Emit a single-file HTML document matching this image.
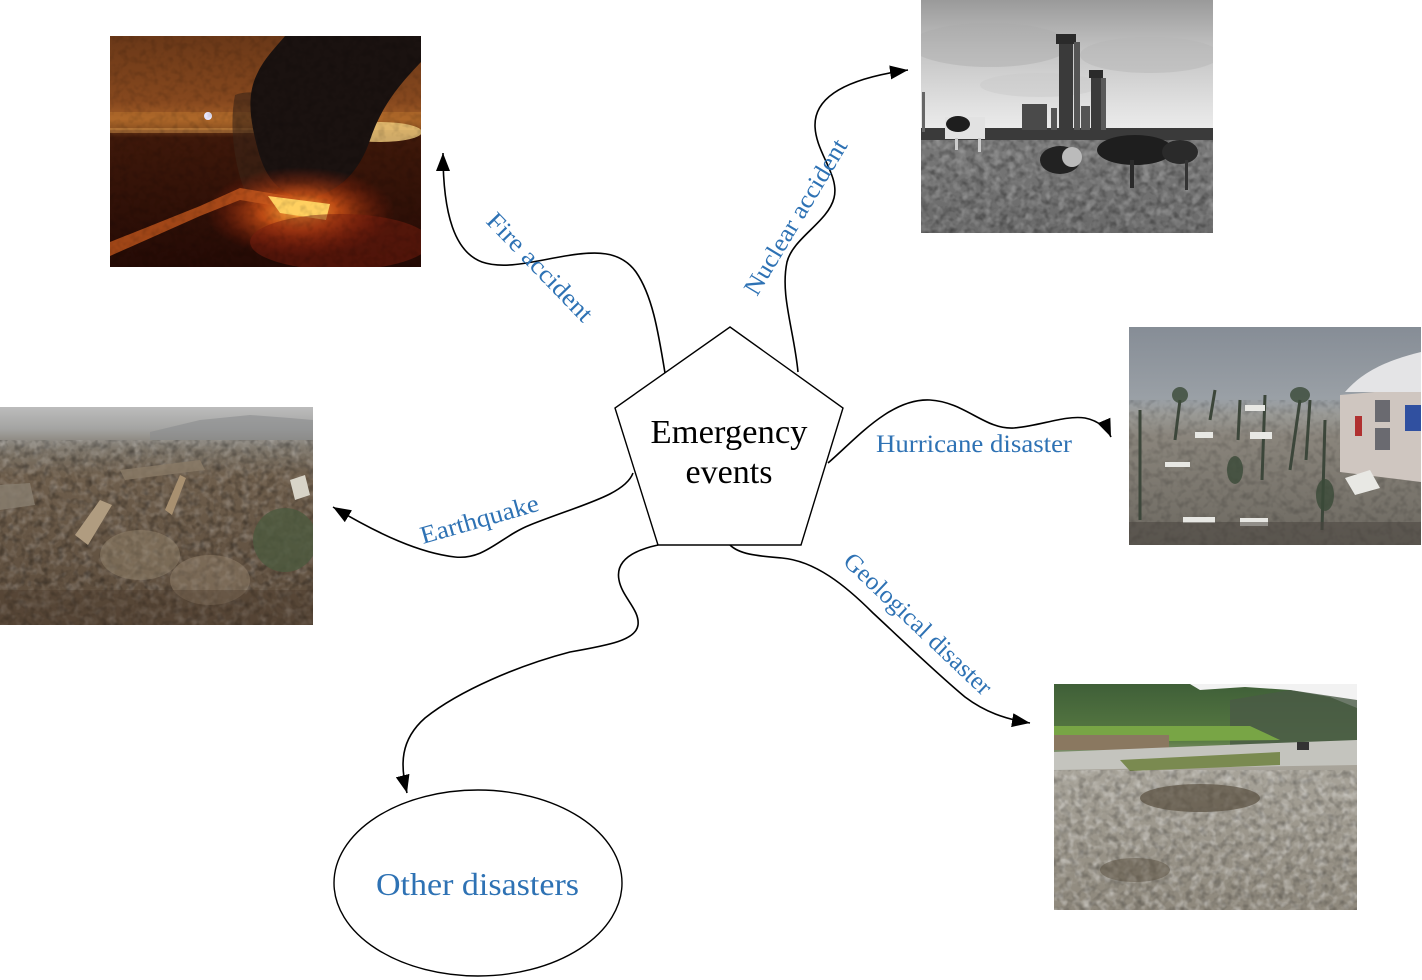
<!DOCTYPE html>
<html>
<head>
<meta charset="utf-8">
<style>
html,body{margin:0;padding:0;background:#fff;}
svg{display:block;}
.lbl{font-family:"Liberation Serif",serif;font-size:25px;fill:#2e72b4;}
</style>
</head>
<body>
<svg width="1422" height="980" viewBox="0 0 1422 980" xmlns="http://www.w3.org/2000/svg">
<defs>
  <marker id="ah" markerUnits="userSpaceOnUse" markerWidth="20" markerHeight="14" refX="18" refY="7" orient="auto">
    <path d="M0,0 L18,7 L0,14 z" fill="#000"/>
  </marker>
  <filter id="nzd" x="0" y="0" width="100%" height="100%">
    <feTurbulence type="fractalNoise" baseFrequency="0.14" numOctaves="2" seed="5"/>
    <feColorMatrix type="matrix" values="0 0 0 0 0  0 0 0 0 0  0 0 0 0 0  1.6 0 0 0 -0.7"/>
  </filter>
  <filter id="nzl" x="0" y="0" width="100%" height="100%">
    <feTurbulence type="fractalNoise" baseFrequency="0.12" numOctaves="2" seed="11"/>
    <feColorMatrix type="matrix" values="0 0 0 0 1  0 0 0 0 1  0 0 0 0 1  0 1.6 0 0 -0.7"/>
  </filter>
  <linearGradient id="gfire" x1="0" y1="0" x2="0" y2="1">
    <stop offset="0" stop-color="#6a3818"/>
    <stop offset="0.28" stop-color="#86481e"/>
    <stop offset="0.36" stop-color="#a25c26"/>
    <stop offset="0.44" stop-color="#3e180a"/>
    <stop offset="1" stop-color="#240a05"/>
  </linearGradient>
  <radialGradient id="rglow">
    <stop offset="0" stop-color="#ffb040" stop-opacity="1"/>
    <stop offset="0.4" stop-color="#e05a18" stop-opacity="0.8"/>
    <stop offset="1" stop-color="#901808" stop-opacity="0"/>
  </radialGradient>
  <linearGradient id="gnuc" x1="0" y1="0" x2="0" y2="1">
    <stop offset="0" stop-color="#9a9a9a"/>
    <stop offset="0.22" stop-color="#c4c4c4"/>
    <stop offset="0.45" stop-color="#e0e0e0"/>
    <stop offset="0.56" stop-color="#ececec"/>
    <stop offset="0.57" stop-color="#7a7a7a"/>
    <stop offset="1" stop-color="#6a6a6a"/>
  </linearGradient>
  <linearGradient id="ghur" x1="0" y1="0" x2="0" y2="1">
    <stop offset="0" stop-color="#868d96"/>
    <stop offset="0.33" stop-color="#9aa0a6"/>
    <stop offset="0.4" stop-color="#9a9a96"/>
    <stop offset="0.5" stop-color="#8a857c"/>
    <stop offset="1" stop-color="#6c6860"/>
  </linearGradient>
  <linearGradient id="geq" x1="0" y1="0" x2="0" y2="1">
    <stop offset="0" stop-color="#bcbcbc"/>
    <stop offset="0.1" stop-color="#a4a4a2"/>
    <stop offset="0.2" stop-color="#7c7468"/>
    <stop offset="0.32" stop-color="#6e5e4c"/>
    <stop offset="1" stop-color="#5a4a3a"/>
  </linearGradient>
  <linearGradient id="ggeo" x1="0" y1="0" x2="0" y2="1">
    <stop offset="0" stop-color="#3f5f38"/>
    <stop offset="0.25" stop-color="#587a42"/>
    <stop offset="0.36" stop-color="#a8a49a"/>
    <stop offset="1" stop-color="#8e887c"/>
  </linearGradient>
  <clipPath id="cf"><rect x="110" y="36" width="311" height="231"/></clipPath>
  <clipPath id="cn"><rect x="921" y="0" width="292" height="233"/></clipPath>
  <clipPath id="ch"><rect x="1129" y="327" width="292" height="218"/></clipPath>
  <clipPath id="ce"><rect x="0" y="407" width="313" height="218"/></clipPath>
  <clipPath id="cg"><rect x="1054" y="684" width="303" height="226"/></clipPath>
</defs>

<rect width="1422" height="980" fill="#fff"/>

<!-- ===== Fire image ===== -->
<g clip-path="url(#cf)">
  <rect x="110" y="36" width="311" height="231" fill="url(#gfire)"/>
  <rect x="110" y="112" width="311" height="18" fill="#c07a30" opacity="0.4"/>
  <rect x="110" y="128" width="150" height="5" fill="#d89a50" opacity="0.45"/>
  <circle cx="208" cy="116" r="4" fill="#e8e8ff"/>
  <ellipse cx="380" cy="132" rx="42" ry="10" fill="#f4d080" opacity="0.8"/>
  <path d="M235,95 C262,85 300,105 310,140 C300,170 272,198 252,205 C236,180 228,130 235,95 Z" fill="#3a2418" opacity="0.6"/>
  <path d="M285,36 L421,36 L421,62 C402,82 382,104 370,140 C360,170 340,192 310,198 C282,198 266,180 258,150 C250,120 246,95 258,72 C266,56 278,45 285,36 Z" fill="#1a1210"/>
  <ellipse cx="300" cy="212" rx="95" ry="45" fill="url(#rglow)"/>
  <path d="M110,242 L200,206 L240,188 L300,198 L300,210 L240,200 L200,216 L110,256 Z" fill="#c85a1e" opacity="0.75"/>
  <path d="M268,196 L330,204 L326,220 L280,213 Z" fill="#ffd060"/>
  <ellipse cx="340" cy="242" rx="90" ry="28" fill="#7a1e0e" opacity="0.5"/>
  <rect x="110" y="36" width="311" height="231" filter="url(#nzd)" opacity="0.2"/>
</g>

<!-- ===== Nuclear image ===== -->
<g clip-path="url(#cn)">
  <rect x="921" y="0" width="292" height="233" fill="url(#gnuc)"/>
  <ellipse cx="990" cy="45" rx="80" ry="22" fill="#ababab" opacity="0.45"/>
  <ellipse cx="1150" cy="55" rx="70" ry="18" fill="#b5b5b5" opacity="0.5"/>
  <ellipse cx="1040" cy="85" rx="60" ry="12" fill="#cacaca" opacity="0.5"/>
  <rect x="921" y="128" width="292" height="12" fill="#3a3a3a"/>
  <rect x="1022" y="104" width="25" height="26" fill="#4a4a4a"/>
  <rect x="1051" y="108" width="6" height="22" fill="#555"/>
  <rect x="1059" y="40" width="14" height="90" fill="#3a3a3a"/>
  <rect x="1056" y="34" width="20" height="10" fill="#2a2a2a"/>
  <rect x="1074" y="42" width="6" height="88" fill="#555"/>
  <rect x="1081" y="106" width="9" height="24" fill="#555"/>
  <rect x="1091" y="75" width="10" height="55" fill="#3a3a3a"/>
  <rect x="1089" y="70" width="14" height="8" fill="#2a2a2a"/>
  <rect x="1101" y="78" width="5" height="52" fill="#5a5a5a"/>
  <rect x="922" y="92" width="3" height="40" fill="#666"/>
  <rect x="921" y="140" width="292" height="93" filter="url(#nzd)" opacity="0.45"/>
  <rect x="921" y="140" width="292" height="93" filter="url(#nzl)" opacity="0.35"/>
  <rect x="945" y="117" width="40" height="22" fill="#e2e2e2"/>
  <ellipse cx="958" cy="124" rx="12" ry="8" fill="#1e1e1e"/>
  <rect x="978" y="138" width="3" height="14" fill="#ccc"/>
  <rect x="955" y="138" width="3" height="12" fill="#ccc"/>
  <ellipse cx="1135" cy="150" rx="38" ry="15" fill="#1e1e1e"/>
  <ellipse cx="1180" cy="152" rx="18" ry="12" fill="#2a2a2a"/>
  <rect x="1130" y="160" width="4" height="28" fill="#2a2a2a"/>
  <rect x="1185" y="160" width="3" height="30" fill="#333"/>
  <ellipse cx="1060" cy="160" rx="20" ry="14" fill="#222"/>
  <ellipse cx="1072" cy="157" rx="10" ry="10" fill="#bbb"/>
</g>

<!-- ===== Hurricane image ===== -->
<g clip-path="url(#ch)">
  <rect x="1129" y="327" width="292" height="218" fill="url(#ghur)"/>
  <rect x="1129" y="400" width="292" height="145" filter="url(#nzd)" opacity="0.25"/>
  <path d="M1340,395 L1421,388 L1421,482 L1340,472 Z" fill="#cfc6c0"/>
  <path d="M1345,392 C1360,375 1380,362 1421,352 L1421,392 Z" fill="#e4e4e6"/>
  <rect x="1375" y="400" width="15" height="22" fill="#6a6a70"/>
  <rect x="1375" y="428" width="15" height="22" fill="#6a6a70"/>
  <rect x="1355" y="416" width="7" height="20" fill="#b03030"/>
  <rect x="1405" y="405" width="16" height="26" fill="#3050a0"/>
  <g stroke="#3c463a" stroke-width="3" fill="none">
    <path d="M1180,400 L1175,440"/><path d="M1240,400 L1238,440"/><path d="M1265,395 L1262,480"/>
    <path d="M1310,400 L1306,460"/><path d="M1325,420 L1322,530"/><path d="M1215,390 L1210,420"/>
    <path d="M1140,410 L1140,520"/><path d="M1300,400 L1290,470"/>
  </g>
  <g fill="#3a4a38" opacity="0.8">
    <ellipse cx="1235" cy="470" rx="8" ry="14"/><ellipse cx="1325" cy="495" rx="9" ry="16"/>
    <ellipse cx="1300" cy="395" rx="10" ry="8"/><ellipse cx="1180" cy="395" rx="8" ry="8"/>
  </g>
  <g fill="#e8e8e4">
    <rect x="1165" y="462" width="25" height="5"/><rect x="1183" y="517" width="32" height="6"/>
    <rect x="1240" y="518" width="28" height="8"/><rect x="1250" y="432" width="22" height="7"/>
    <rect x="1195" y="432" width="18" height="6"/><rect x="1245" y="405" width="20" height="6"/>
    <path d="M1345,478 L1370,470 L1380,488 L1355,495 Z"/>
  </g>
  <rect x="1129" y="522" width="292" height="23" fill="#4a4640" opacity="0.55"/>
</g>

<!-- ===== Earthquake image ===== -->
<g clip-path="url(#ce)">
  <rect x="0" y="407" width="313" height="218" fill="url(#geq)"/>
  <path d="M150,432 L200,420 L250,415 L290,418 L313,420 L313,440 L150,440 Z" fill="#8a8c8e" opacity="0.6"/>
  <rect x="0" y="440" width="313" height="185" filter="url(#nzl)" opacity="0.3"/>
  <rect x="0" y="440" width="313" height="185" filter="url(#nzd)" opacity="0.45"/>
  <path d="M0,485 L30,483 L35,505 L0,510 Z" fill="#8a8070" opacity="0.8"/>
  <path d="M75,535 L100,500 L112,505 L88,545 Z" fill="#b09c80"/>
  <path d="M165,510 L180,475 L186,478 L172,515 Z" fill="#a89070"/>
  <path d="M120,470 L200,460 L205,470 L125,480 Z" fill="#8a7a66" opacity="0.8"/>
  <path d="M290,480 L305,475 L310,495 L295,500 Z" fill="#d8d4c8"/>
  <ellipse cx="285" cy="540" rx="32" ry="32" fill="#4c5a3e" opacity="0.8"/>
  <ellipse cx="140" cy="555" rx="40" ry="25" fill="#9a8a70" opacity="0.45"/>
  <ellipse cx="210" cy="580" rx="40" ry="25" fill="#9a8870" opacity="0.45"/>
  <rect x="0" y="590" width="313" height="35" fill="#4a3a2c" opacity="0.35"/>
</g>

<!-- ===== Geological image ===== -->
<g clip-path="url(#cg)">
  <rect x="1054" y="684" width="303" height="226" fill="url(#ggeo)"/>
  <path d="M1190,684 L1357,684 L1357,708 L1330,697 L1290,690 L1245,687 L1200,690 Z" fill="#f2f2f2"/>
  <path d="M1230,700 L1290,690 L1357,700 L1357,745 L1230,745 Z" fill="#4a5a46" opacity="0.8"/>
  <path d="M1054,726 L1250,726 L1280,740 L1054,742 Z" fill="#78a545"/>
  <rect x="1054" y="735" width="115" height="15" fill="#8a7860"/>
  <path d="M1054,752 L1250,744 L1357,740 L1357,765 L1054,770 Z" fill="#c4c4be"/>
  <path d="M1120,760 L1280,752 L1280,765 L1130,771 Z" fill="#7a8a50"/>
  <rect x="1054" y="770" width="303" height="140" filter="url(#nzl)" opacity="0.55"/>
  <rect x="1054" y="770" width="303" height="140" filter="url(#nzd)" opacity="0.35"/>
  <ellipse cx="1200" cy="798" rx="60" ry="14" fill="#5a5040" opacity="0.7"/>
  <ellipse cx="1135" cy="870" rx="35" ry="12" fill="#5a5040" opacity="0.5"/>
  <rect x="1297" y="742" width="12" height="8" fill="#333"/>
</g>

<!-- ===== Pentagon ===== -->
<polygon points="730,327 843,408 801,545 658,545 615,408" fill="#fff" stroke="#000" stroke-width="1.4"/>
<text x="729" y="443" text-anchor="middle" font-family="Liberation Serif, serif" font-size="34" fill="#000" textLength="157" lengthAdjust="spacingAndGlyphs">Emergency</text>
<text x="729" y="483" text-anchor="middle" font-family="Liberation Serif, serif" font-size="34" fill="#000" textLength="87" lengthAdjust="spacingAndGlyphs">events</text>

<!-- ===== Ellipse ===== -->
<ellipse cx="478" cy="883" rx="144" ry="93" fill="#fff" stroke="#000" stroke-width="1.4"/>
<text x="376" y="895" font-family="Liberation Serif, serif" font-size="32" fill="#2e72b4" textLength="203" lengthAdjust="spacingAndGlyphs">Other disasters</text>

<!-- ===== Connectors ===== -->
<g fill="none" stroke="#000" stroke-width="1.6" marker-end="url(#ah)">
  <path d="M665,373 C658,330 652,295 636,272 C620,250 595,251 565,256 C535,261 505,270 482,262 C455,252 443,215 443,153"/>
  <path d="M798,372 C794,330 780,295 787,262 C793,238 828,222 834,198 C840,175 815,152 815,125 C815,95 850,78 908,70"/>
  <path d="M828,463 C855,440 890,398 930,400 C965,402 985,430 1014,428 C1040,426 1065,415 1085,418 C1100,421 1108,430 1111,437"/>
  <path d="M633,473 C625,495 580,505 530,525 C500,537 485,560 455,557 C420,553 380,535 333,507"/>
  <path d="M730,545 C740,555 760,556 782,558 C815,561 845,585 873,613 C900,638 935,672 965,697 C985,712 1005,719 1030,723"/>
  <path d="M658,545 C635,550 615,560 619,580 C622,597 640,610 638,625 C636,640 610,645 570,652 C520,665 460,690 425,718 C400,740 400,765 407,793"/>
</g>

<!-- ===== Labels ===== -->
<text class="lbl" x="485" y="222" transform="rotate(46 485 222)" textLength="141" lengthAdjust="spacingAndGlyphs">Fire accident</text>
<text class="lbl" x="757" y="297" transform="rotate(-59 757 297)" textLength="177" lengthAdjust="spacingAndGlyphs">Nuclear accident</text>
<text class="lbl" x="876" y="452" textLength="196" lengthAdjust="spacingAndGlyphs">Hurricane disaster</text>
<text class="lbl" x="423" y="544" transform="rotate(-16 423 544)" textLength="122" lengthAdjust="spacingAndGlyphs">Earthquake</text>
<text class="lbl" x="842" y="563" transform="rotate(43.5 842 563)" textLength="194" lengthAdjust="spacingAndGlyphs">Geological disaster</text>
</svg>
</body>
</html>
